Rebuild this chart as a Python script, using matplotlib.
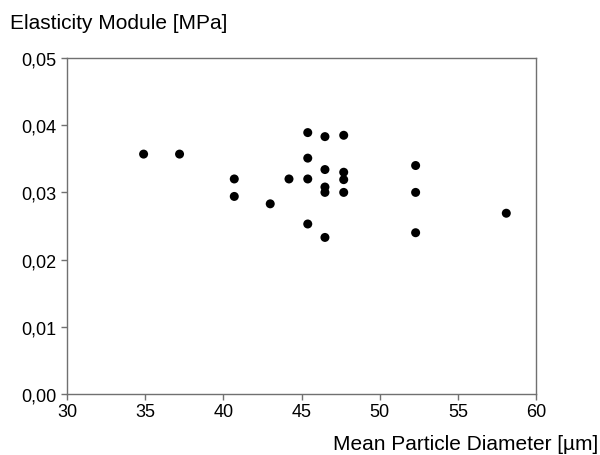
import matplotlib
matplotlib.use("Agg")
import matplotlib.pyplot as plt
from matplotlib.ticker import FuncFormatter

plt.rcParams['font.family'] = ['Liberation Sans', 'DejaVu Sans']

diameter = [34.9, 37.2, 40.7, 40.7, 43.0, 44.2,
            45.4, 45.4, 45.4, 45.4,
            46.5, 46.5, 46.5, 46.5, 46.5,
            47.7, 47.7, 47.7, 47.7,
            52.3, 52.3, 52.3, 58.1]
modulus = [0.0357, 0.0357, 0.0320, 0.0294, 0.0283, 0.0320,
           0.0389, 0.0351, 0.0320, 0.0253,
           0.0383, 0.0334, 0.0308, 0.0300, 0.0233,
           0.0385, 0.0330, 0.0319, 0.0300,
           0.0340, 0.0300, 0.0240, 0.0269]
x_ticks = [30, 35, 40, 45, 50, 55, 60]
y_ticks = [0.00, 0.01, 0.02, 0.03, 0.04, 0.05]

fig = plt.figure(figsize=(6, 4.56), dpi=100)
ax = fig.add_axes([67/600, 1-395/456, (536-67)/600, (395-59)/456])
ax.scatter(diameter, modulus, s=42, color='black', edgecolors='none', zorder=3)
ax.set_xlim(30, 60)
ax.set_ylim(0, 0.05)
ax.set_xticks(x_ticks)
ax.set_yticks(y_ticks)
ax.yaxis.set_major_formatter(FuncFormatter(lambda v, p: f"{v:.2f}".replace('.', ',')))
for s in ax.spines.values():
    s.set_color('#707070')
    s.set_linewidth(1.0)
ax.tick_params(direction='out', length=4, width=1, color='#707070',
               labelsize=13, labelcolor='black', pad=2.5)
ax.tick_params(axis='y', pad=3.5)
fig.text(10/600, 1-24/456, 'Elasticity Module [MPa]', fontsize=15, ha='left', va='center')
fig.text(598/600, 1-445/456, 'Mean Particle Diameter [µm]', fontsize=15, ha='right', va='center')
fig.savefig('out.png', dpi=100)
